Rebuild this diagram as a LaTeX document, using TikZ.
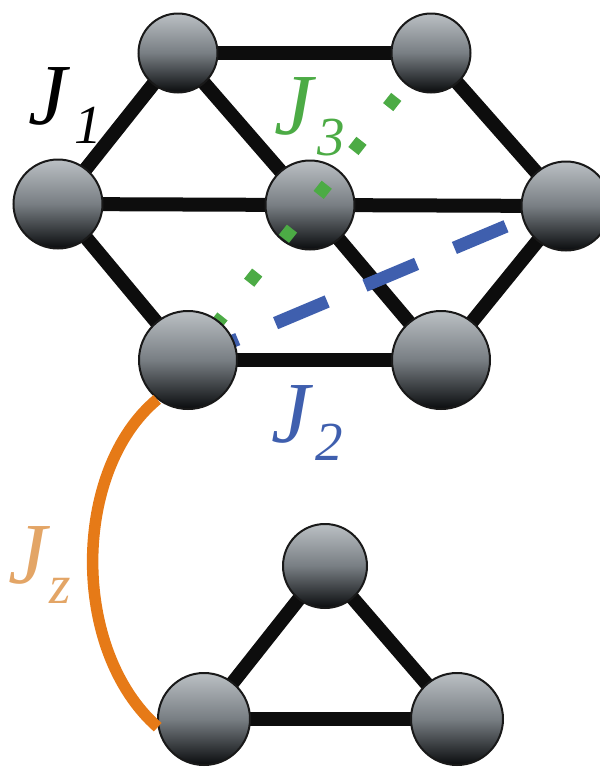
\documentclass[tikz,border=0pt]{standalone}
\usepackage{fontspec}
\setmainfont{Liberation Serif}
\pgfdeclarelayer{edgelayer}
\pgfdeclarelayer{centerlayer}
\pgfdeclarelayer{couplinglayer}
\pgfsetlayers{edgelayer,centerlayer,couplinglayer,main}
\definecolor{jgreen}{HTML}{4CAB45}
\definecolor{jblue}{HTML}{3F5FAE}
\definecolor{jorange}{HTML}{E67A17}
\definecolor{jlabel}{HTML}{E3A566}
\definecolor{edgeblack}{HTML}{0D0D0D}
\definecolor{siteTop}{HTML}{BBC0C4}
\definecolor{siteMid}{HTML}{787E83}
\definecolor{siteBottom}{HTML}{0A0C0E}
\tikzset{
  site/.style={circle,draw=black!90,line width=2pt,inner sep=0pt,minimum size=#1,
    top color=siteTop,bottom color=siteBottom,middle color=siteMid},
  bond/.style={draw=edgeblack,line width=14pt},
  bluebond/.style={draw=jblue,line width=13pt,dash pattern=on 56pt off 41pt,dash phase=2pt},
  greenbond/.style={draw=jgreen,line width=13pt,dash pattern=on 13pt off 43pt},
  orangebond/.style={draw=jorange,line width=11.5pt},
  lab/.style={inner sep=0pt,anchor=base west,font=\itshape\fontsize{#1}{#1}\selectfont},
}
\begin{document}
\begin{tikzpicture}[x=1pt,y=-1pt]
\useasboundingbox (0,0) rectangle (600,769);
\node[site=79pt] (tl) at (178,53) {};
\node[site=79pt] (tr) at (431,53) {};
\node[site=89pt] (ml) at (58,204) {};
\begin{pgfonlayer}{centerlayer}
\node[site=89pt] (c) at (310,205) {};
\end{pgfonlayer}
\node[site=89pt] (r) at (566,206) {};
\node[site=98pt] (bl) at (188,360) {};
\node[site=98pt] (br) at (441,360) {};
\node[site=84pt] (lt) at (325,566) {};
\node[site=92pt] (ll) at (204,719) {};
\node[site=92pt] (lr) at (457,719) {};
\begin{pgfonlayer}{edgelayer}
\foreach \a/\b in {tl/tr,tl/ml,tl/c,tr/r,ml/c,c/r,ml/bl,c/br,r/br,bl/br,lt/ll,lt/lr,ll/lr}
  \draw[bond] (\a.center) -- (\b.center);
\end{pgfonlayer}
\begin{pgfonlayer}{couplinglayer}
\draw[bluebond] (bl.center) -- ([yshift=5pt]r.center);
\draw[greenbond] (tr.center) -- (bl.center);
\end{pgfonlayer}
\draw[orangebond] (bl.232) .. controls (72,470) and (70,650) .. (ll.190);
\node[lab=87pt,text=black] (j1) at (28,124) {J};
\node[lab=55pt,text=black] (j1s) at (74,143) {1};
\node[lab=87pt,text=jgreen] (j3) at (274,134) {J};
\node[lab=55pt,text=jgreen] (j3s) at (317,155) {3};
\node[lab=87pt,text=jblue] (j2) at (271,442) {J};
\node[lab=55pt,text=jblue] (j2s) at (315,460) {2};
\node[lab=87pt,text=jlabel] (jz) at (8,583) {J};
\node[lab=55pt,text=jlabel] (jzs) at (49,603) {z};
\end{tikzpicture}
\end{document}
